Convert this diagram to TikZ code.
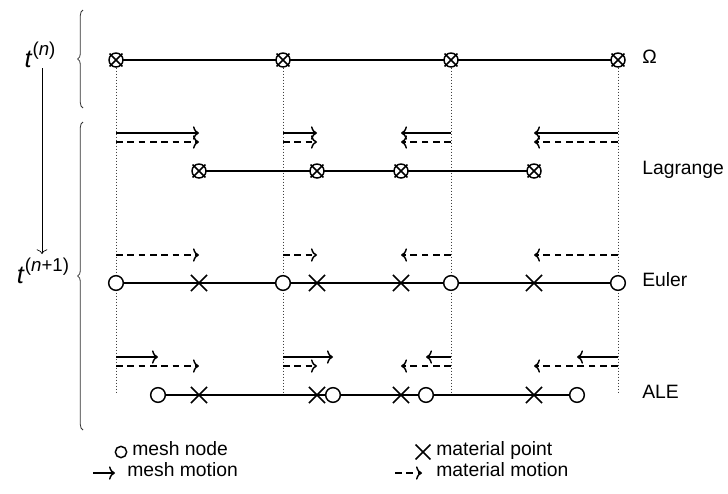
\documentclass[tikz,border=0pt]{standalone}
\usepackage{fontspec}
\setmainfont{Liberation Sans}
\usetikzlibrary{arrows.meta,shapes.misc,decorations.pathreplacing}
\pgfdeclarelayer{bg}
\pgfsetlayers{bg,main}
\begin{document}
\begin{tikzpicture}[x=0.75pt,y=-0.75pt,
  font=\fontsize{14.5}{17}\selectfont,
  mline/.style={line width=1.1pt},
  mesh/.style={circle,draw,fill=white,line width=1.1pt,minimum size=11pt,inner sep=0pt},
  mat/.style={cross out,draw,line width=1.1pt,minimum size=11pt,inner sep=0pt},
  both/.style={circle,draw,fill=white,line width=1.1pt,minimum size=10.5pt,inner sep=0pt},
  bothx/.style={cross out,draw,line width=1.1pt,minimum size=8.5pt,inner sep=0pt},
  mm/.style={line width=1.1pt,-{Computer Modern Rightarrow[length=4.5pt,width=10pt]}},
  md/.style={mm,dash pattern=on 5pt off 3.5pt},
  dotline/.style={black!75,line width=0.45pt,dash pattern=on 0.45pt off 1.8pt},
  bracestyle/.style={black!80,line width=0.6pt,decorate,decoration={brace,amplitude=4pt}},
  lbl/.style={anchor=mid west,inner sep=0pt}
]
\useasboundingbox (0,0) rectangle (728,493);
% row heights
\coordinate (rLs) at (0,133);
\coordinate (rLd) at (0,142);
\coordinate (rEd) at (0,255);
\coordinate (rAs) at (0,357);
\coordinate (rAd) at (0,366);
% top row
\foreach \i/\x in {1/116,2/283,3/451,4/618}{
  \node[both] (T\i) at (\x,60) {};
  \node[bothx] (T\i x) at (\x,60) {};
  \coordinate (D\i) at (\x,392);
  \node[mesh] (E\i) at (\x,283) {};
}
% Lagrange
\foreach \i/\x in {1/199,2/317,3/401,4/534}{
  \node[both] (L\i) at (\x,171) {};
  \node[bothx] (L\i x) at (\x,171) {};
  \node[mat] (EX\i) at (\x,283) {};
  \node[mat] (AX\i) at (\x,395) {};
}
% ALE mesh nodes
\foreach \i/\x in {1/158,2/333,3/426,4/577}{
  \node[mesh] (A\i) at (\x,395) {};
}
\begin{pgfonlayer}{bg}
  \foreach \i in {1,...,4}{
    \draw[dotline] (T\i) -- (D\i);
  }
  \draw[mline] (T1.center) -- (T4.center);
  \draw[mline] (L1.center) -- (L4.center);
  \draw[mline] (E1.center) -- (E4.center);
  \draw[mline] (A1.center) -- (A4.center);
\end{pgfonlayer}
\foreach \i in {1,...,4}{
  \draw[mm] (D\i |- rLs) -- (L\i |- rLs);
  \draw[md] (D\i |- rLd) -- (L\i |- rLd);
  \draw[md] (D\i |- rEd) -- (EX\i |- rEd);
  \draw[mm] (D\i |- rAs) -- (A\i |- rAs);
  \draw[md] (D\i |- rAd) -- (AX\i |- rAd);
}
% labels
\node[lbl] (om) at (642,60) {Ω};
\node[lbl] (lag) at (642,171) {Lagrange};
\node[lbl] (eul) at (642,283) {Euler};
\node[lbl] (ale) at (642,395) {ALE};
% time
\node[font=\fontsize{19}{22}\selectfont,inner sep=1pt] (tn) at (40,55) {\textit{t}\raisebox{0.85ex}{\fontsize{14}{16}\selectfont(\textit{n})}};
\node[font=\fontsize{19}{22}\selectfont,inner sep=1pt] (tn1) at (43,271) {\textit{t}\raisebox{0.85ex}{\fontsize{14}{16}\selectfont(\textit{n}+1)}};
\coordinate (ta) at (42,68);
\coordinate (tb) at (42,254);
\draw[line width=0.5pt,-{Computer Modern Rightarrow[length=3.5pt,width=8pt]}] (ta) -- (tb);
% braces
\coordinate (b1) at (83,108);
\coordinate (b2) at (83,10);
\coordinate (b3) at (83,430);
\coordinate (b4) at (83,122);
\draw[bracestyle] (b1) -- (b2);
\draw[bracestyle] (b3) -- (b4);
% legend
\node[mesh,minimum size=8.5pt] (lgc) at (121,452) {};
\node[lbl] (lgct) at (132,452) {mesh node};
\node[mat,minimum size=10pt] (lgx) at (423,452) {};
\node[lbl] (lgxt) at (436,452) {material point};
\coordinate (la1) at (93,473);
\coordinate (la2) at (115,473);
\node[lbl] (lgmt) at (127,473) {mesh motion};
\draw[mm] (la1) -- (la2);
\coordinate (ld1) at (395,473);
\coordinate (ld2) at (422,473);
\node[lbl] (lgdt) at (436,473) {material motion};
\draw[md] (ld1) -- (ld2);
\end{tikzpicture}
\end{document}
